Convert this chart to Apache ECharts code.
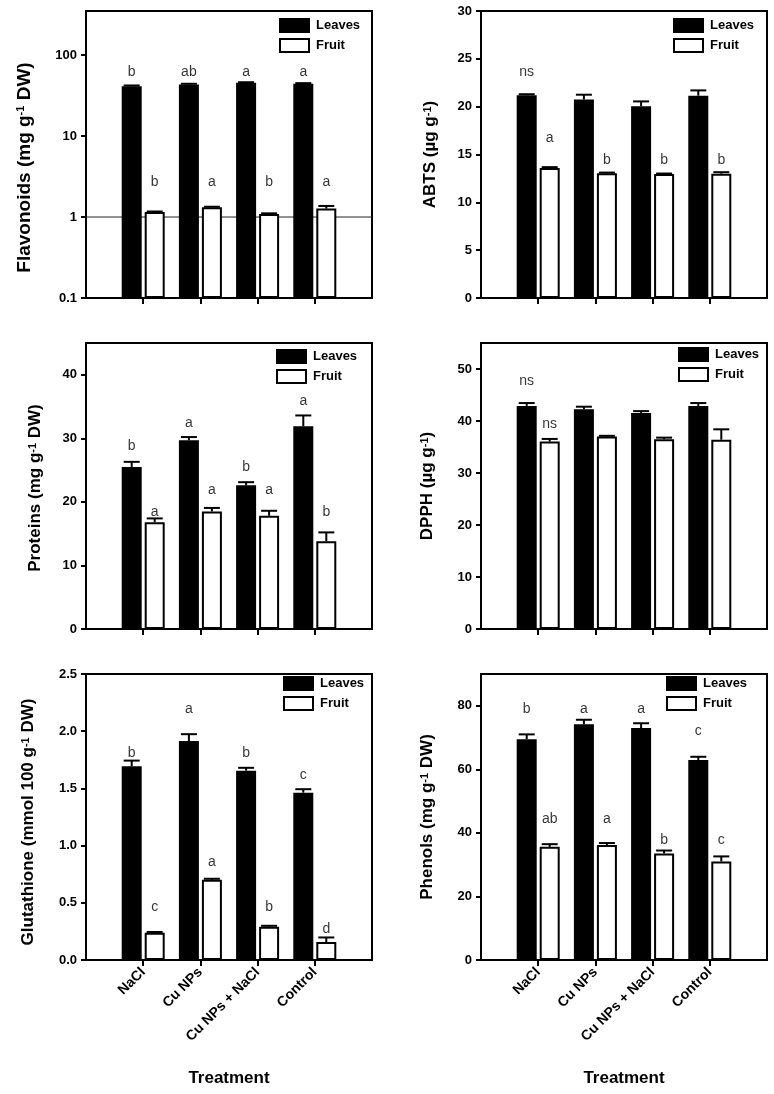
<!DOCTYPE html>
<html>
<head>
<meta charset="utf-8">
<script src="https://cdn.jsdelivr.net/npm/echarts@6/dist/echarts.min.js"></script>
<style>html,body{margin:0;padding:0;background:#fff}#c{width:774px;height:1094px}</style>
</head>
<body>
<div id="c"></div>
<script>
// ---------- data ----------
const categories = ['NaCl', 'Cu NPs', 'Cu NPs + NaCl', 'Control'];
const seriesNames = ['Leaves', 'Fruit'];

// Flavonoids (mg g-1 DW), log axis
const flavLeaves = [41.3, 43.4, 45.4, 44.2];
const flavLeavesErr = [0.8, 0.8, 0.8, 0.8];
const flavFruit = [1.15, 1.32, 1.09, 1.27];
const flavFruitErr = [0.02, 0.02, 0.02, 0.1];
const flavLeavesLetters = ['b', 'ab', 'a', 'a'];
const flavFruitLetters = ['b', 'a', 'b', 'a'];
const flavLeavesLetterY = [54, 54, 54, 54];
const flavFruitLetterY = [2.35, 2.35, 2.35, 2.35];
const flavTicks = [0.1, 1, 10, 100];
const flavRefLine = 1;

// ABTS (µg g-1)
const abtsLeaves = [21.2, 20.75, 20.05, 21.15];
const abtsLeavesErr = [0.1, 0.5, 0.5, 0.55];
const abtsFruit = [13.6, 13.03, 12.96, 13.0];
const abtsFruitErr = [0.08, 0.08, 0.05, 0.15];
const abtsLeavesLetters = ['ns', '', '', ''];
const abtsFruitLetters = ['a', 'b', 'b', 'b'];
const abtsLeavesLetterY = [23.16, 0, 0, 0];
const abtsFruitLetterY = [16.24, 13.98, 13.98, 13.98];
const abtsTicks = [0, 5, 10, 15, 20, 25, 30];

// Proteins (mg g-1 DW)
const protLeaves = [25.5, 29.7, 22.6, 31.9];
const protLeavesErr = [0.8, 0.5, 0.5, 1.7];
const protFruit = [16.8, 18.5, 17.8, 13.8];
const protFruitErr = [0.6, 0.55, 0.8, 1.4];
const protLeavesLetters = ['b', 'a', 'b', 'a'];
const protFruitLetters = ['a', 'a', 'a', 'b'];
const protLeavesLetterY = [28.1, 31.65, 24.7, 35.1];
const protFruitLetterY = [17.75, 21.2, 21.2, 17.75];
const protTicks = [0, 10, 20, 30, 40];

// DPPH (µg g-1)
const dpphLeaves = [42.9, 42.25, 41.55, 42.9];
const dpphLeavesErr = [0.55, 0.5, 0.35, 0.55];
const dpphFruit = [36.05, 37.0, 36.5, 36.4];
const dpphFruitErr = [0.5, 0.15, 0.3, 2.0];
const dpphLeavesLetters = ['ns', '', '', ''];
const dpphFruitLetters = ['ns', '', '', ''];
const dpphLeavesLetterY = [46.86, 0, 0, 0];
const dpphFruitLetterY = [38.6, 0, 0, 0];
const dpphTicks = [0, 10, 20, 30, 40, 50];

// Glutathione (mmol 100 g-1 DW)
const gluLeaves = [1.693, 1.914, 1.655, 1.463];
const gluLeavesErr = [0.05, 0.06, 0.025, 0.03];
const gluFruit = [0.239, 0.702, 0.291, 0.157];
const gluFruitErr = [0.006, 0.008, 0.008, 0.04];
const gluLeavesLetters = ['b', 'a', 'b', 'c'];
const gluFruitLetters = ['c', 'a', 'b', 'd'];
const gluLeavesLetterY = [1.772, 2.153, 1.772, 1.573];
const gluFruitLetterY = [0.425, 0.816, 0.425, 0.233];
const gluTicks = [0, 0.5, 1.0, 1.5, 2.0, 2.5];

// Phenols (mg g-1 DW)
const phenLeaves = [69.5, 74.2, 73.0, 62.9];
const phenLeavesErr = [1.5, 1.4, 1.5, 1.05];
const phenFruit = [35.6, 36.2, 33.5, 31.0];
const phenFruitErr = [0.85, 0.6, 0.95, 1.6];
const phenLeavesLetters = ['b', 'a', 'a', 'c'];
const phenFruitLetters = ['ab', 'a', 'b', 'c'];
const phenLeavesLetterY = [77.6, 77.6, 77.6, 70.5];
const phenFruitLetterY = [43.0, 43.0, 36.2, 36.2];
const phenTicks = [0, 20, 40, 60, 80];

const xTitle = 'Treatment';

// ---------- layout / style ----------
const FONT = '"Liberation Sans", Arial, Helvetica, sans-serif';
const cats = [''].concat(categories, ['']);
const COLS = [86, 481];
const ROWS = [11, 343, 674];
const GW = 286, GH = 287;
const BAR_W = 20, BAR_GAP = '15%';
const OFF = 11.5;

const panels = [
  { name: '{t|Flavonoids (mg g}{s|-1}{t| DW)}', type: 'log', min: 0.1, max: 350, ticks: flavTicks,
    leaves: flavLeaves, leavesErr: flavLeavesErr, fruit: flavFruit, fruitErr: flavFruitErr,
    lL: flavLeavesLetters, fL: flavFruitLetters, lY: flavLeavesLetterY, fY: flavFruitLetterY,
    col: 0, row: 0, nameGap: 52, namePad: 26, legend: [279, 18], fmt: v => String(v), ref: flavRefLine, nameSize: 19 },
  { name: '{t|ABTS (µg g}{s|-1}{t|)}', type: 'value', min: 0, max: 30, ticks: abtsTicks,
    leaves: abtsLeaves, leavesErr: abtsLeavesErr, fruit: abtsFruit, fruitErr: abtsFruitErr,
    lL: abtsLeavesLetters, fL: abtsFruitLetters, lY: abtsLeavesLetterY, fY: abtsFruitLetterY,
    col: 1, row: 0, nameGap: 42, namePad: 0, legend: [673, 18], fmt: v => String(v) },
  { name: '{t|Proteins (mg g}{s|-1}{t| DW)}', type: 'value', min: 0, max: 45, ticks: protTicks,
    leaves: protLeaves, leavesErr: protLeavesErr, fruit: protFruit, fruitErr: protFruitErr,
    lL: protLeavesLetters, fL: protFruitLetters, lY: protLeavesLetterY, fY: protFruitLetterY,
    col: 0, row: 1, nameGap: 42, namePad: 4, legend: [276, 349], fmt: v => String(v) },
  { name: '{t|DPPH (µg g}{s|-1}{t|)}', type: 'value', min: 0, max: 55, ticks: dpphTicks,
    leaves: dpphLeaves, leavesErr: dpphLeavesErr, fruit: dpphFruit, fruitErr: dpphFruitErr,
    lL: dpphLeavesLetters, fL: dpphFruitLetters, lY: dpphLeavesLetterY, fY: dpphFruitLetterY,
    col: 1, row: 1, nameGap: 45, namePad: 0, legend: [678, 347], fmt: v => String(v) },
  { name: '{t|Glutathione (mmol 100 g}{s|-1}{t| DW)}', type: 'value', min: 0, max: 2.5, ticks: gluTicks,
    leaves: gluLeaves, leavesErr: gluLeavesErr, fruit: gluFruit, fruitErr: gluFruitErr,
    lL: gluLeavesLetters, fL: gluFruitLetters, lY: gluLeavesLetterY, fY: gluFruitLetterY,
    col: 0, row: 2, nameGap: 49, namePad: 10, legend: [283, 676], fmt: v => v.toFixed(1) },
  { name: '{t|Phenols (mg g}{s|-1}{t| DW)}', type: 'value', min: 0, max: 90, ticks: phenTicks,
    leaves: phenLeaves, leavesErr: phenLeavesErr, fruit: phenFruit, fruitErr: phenFruitErr,
    lL: phenLeavesLetters, fL: phenFruitLetters, lY: phenLeavesLetterY, fY: phenFruitLetterY,
    col: 1, row: 2, nameGap: 45, namePad: 0, legend: [666, 676], fmt: v => String(v) }
];

const grid = [], xAxis = [], yAxis = [], series = [], legend = [];
const showCat = (idx) => idx > 0 && idx < cats.length - 1;

function errRender(offset) {
  return function (params, api) {
    const c = api.value(0), m = api.value(1), e = api.value(2);
    const p0 = api.coord([c, m]);
    const p1 = api.coord([c, m + e]);
    const x = p0[0] + offset;
    return {
      type: 'group',
      children: [
        { type: 'line', shape: { x1: x, y1: p0[1], x2: x, y2: p1[1] }, style: { stroke: '#000', lineWidth: 2 } },
        { type: 'line', shape: { x1: x - 8, y1: p1[1], x2: x + 8, y2: p1[1] }, style: { stroke: '#000', lineWidth: 2 } }
      ]
    };
  };
}

panels.forEach((p, i) => {
  const bottom = p.row === 2;
  grid.push({ left: COLS[p.col], top: ROWS[p.row], width: GW, height: GH - (p.row ? 1 : 0),
    show: true, borderColor: '#000', borderWidth: 2, backgroundColor: 'transparent', containLabel: false,
    outerBoundsMode: 'none' });
  xAxis.push({
    type: 'category', gridIndex: i, data: cats, boundaryGap: false,
    axisLine: { show: true, lineStyle: { color: '#000', width: 2 } },
    axisTick: { show: true, length: 6, interval: showCat, lineStyle: { color: '#000', width: 2 } },
    axisLabel: { show: bottom, interval: showCat, rotate: 45, margin: 10, fontSize: 14, fontWeight: 'bold',
      color: '#000', fontFamily: FONT },
    splitLine: { show: false },
    name: bottom ? xTitle : '', nameLocation: 'middle', nameGap: 110, nameMoveOverlap: false,
    nameTextStyle: { fontSize: 17, fontWeight: 'bold', color: '#000', fontFamily: FONT }
  });
  const ns = p.nameSize || 17;
  const y = {
    type: p.type, gridIndex: i, min: p.min, max: p.max,
    axisLine: { show: true, lineStyle: { color: '#000', width: 2 } },
    axisTick: { show: true, length: 5, customValues: p.ticks, lineStyle: { color: '#000', width: 2 } },
    axisLabel: { customValues: p.ticks, formatter: p.fmt, margin: 9, fontSize: 13, fontWeight: 'bold',
      color: '#000', fontFamily: FONT },
    splitLine: { show: false }, minorTick: { show: false },
    name: p.name, nameLocation: 'middle', nameGap: p.nameGap, nameMoveOverlap: false,
    nameTextStyle: {
      padding: [0, p.namePad, 0, 0],
      rich: {
        t: { fontSize: ns, fontWeight: 'bold', color: '#000', fontFamily: FONT },
        s: { fontSize: 11, fontWeight: 'bold', color: '#000', fontFamily: FONT, verticalAlign: 'top' }
      }
    }
  };
  if (p.type === 'log') { y.logBase = 10; y.startValue = p.min; }
  yAxis.push(y);

  if (p.ref != null) {
    series.push({ type: 'line', xAxisIndex: i, yAxisIndex: i, data: [[0, p.ref], [cats.length - 1, p.ref]],
      symbol: 'none', silent: true, z: 1, lineStyle: { color: '#222', width: 1 } });
  }
  series.push({ type: 'bar', name: seriesNames[0], xAxisIndex: i, yAxisIndex: i,
    data: p.leaves.map((v, k) => [k + 1, v]), barWidth: BAR_W, barGap: BAR_GAP,
    itemStyle: { color: '#000', borderColor: '#000', borderWidth: 2 }, silent: true, z: 2 });
  series.push({ type: 'bar', name: seriesNames[1], xAxisIndex: i, yAxisIndex: i,
    data: p.fruit.map((v, k) => [k + 1, v]), barWidth: BAR_W, barGap: BAR_GAP,
    itemStyle: { color: '#fff', borderColor: '#000', borderWidth: 2 }, silent: true, z: 2 });
  series.push({ type: 'custom', xAxisIndex: i, yAxisIndex: i, renderItem: errRender(-OFF), silent: true, z: 3,
    encode: { x: 0, y: 1 }, data: p.leaves.map((v, k) => [k + 1, v, p.leavesErr[k]]) });
  series.push({ type: 'custom', xAxisIndex: i, yAxisIndex: i, renderItem: errRender(OFF), silent: true, z: 3,
    encode: { x: 0, y: 1 }, data: p.fruit.map((v, k) => [k + 1, v, p.fruitErr[k]]) });
  [[p.lL, p.lY, -OFF], [p.fL, p.fY, OFF]].forEach(([letters, ys, off]) => {
    const d = [];
    letters.forEach((t, k) => { if (t) d.push([k + 1, ys[k], t]); });
    series.push({ type: 'scatter', xAxisIndex: i, yAxisIndex: i, data: d, symbolSize: 1, silent: true, z: 4,
      itemStyle: { color: 'rgba(0,0,0,0)' },
      label: { show: true, position: 'inside', formatter: q => q.data[2], offset: [off, -4.5],
        fontSize: 14, color: '#000', fontFamily: FONT } });
  });
  legend.push({
    left: p.legend[0], top: p.legend[1], orient: 'vertical', padding: 0, itemWidth: 29, itemHeight: 13, itemGap: 5,
    icon: 'rect', selectedMode: false,
    data: [
      { name: seriesNames[0], itemStyle: { color: '#000', borderColor: '#000', borderWidth: 2 } },
      { name: seriesNames[1], itemStyle: { color: '#fff', borderColor: '#000', borderWidth: 2 } }
    ],
    textStyle: { fontSize: 13, fontWeight: 'bold', color: '#000', fontFamily: FONT, padding: [0, 0, 0, 2] }
  });
});

const chart = echarts.init(document.getElementById('c'), null, { renderer: 'canvas' });
chart.setOption({ backgroundColor: '#fff', animation: false, grid, xAxis, yAxis, series, legend });
</script>
</body>
</html>
